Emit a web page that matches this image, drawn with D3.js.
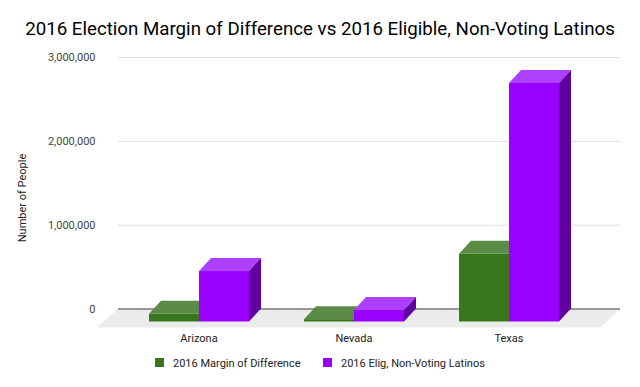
<!DOCTYPE html>
<html><head><meta charset="utf-8">
<script src="https://cdn.jsdelivr.net/npm/d3@7/dist/d3.min.js"></script>
<style>body{margin:0;background:#fff}svg{display:block;font-family:Roboto,sans-serif}</style>
</head><body><svg id="c" width="640" height="387"></svg>
<script>
const categories = ["Arizona", "Nevada", "Texas"];
const seriesNames = ["2016 Margin of Difference", "2016 Elig, Non-Voting Latinos"];
const marginValues = [91234, 27202, 807179];
const nonVotingValues = [602000, 137000, 2845000];
const yTicks = [0, 1000000, 2000000, 3000000];
const title = "2016 Election Margin of Difference vs 2016 Eligible, Non-Voting Latinos";
const yAxisTitle = "Number of People";

const colors = [
  {front:"#38761d", top:"#5b8c47", side:"#2a5915"},
  {front:"#9900ff", top:"#ad40ff", side:"#5f00a0"}
];
const svg = d3.select("#c");
const DX = 12, DY = -13;            // 3D depth offset
const backLeft = 118, backRight = 620;

// back plane y scale
const y = d3.scaleLinear().domain([0, 3000000]).range([308.5, 57]);
// front plane
const yF = v => y(v) - DY;

const x0 = d3.scaleBand().domain(categories).range([121.5, 586.5]).paddingInner(0.3548).paddingOuter(0.1774);
const x1 = d3.scaleBand().domain(seriesNames).range([0, x0.bandwidth()]);

// floor
svg.append("path")
  .attr("d", `M${backLeft},${y(0)}L${backRight},${y(0)}L${backRight-19},${y(0)+19}L${backLeft-21},${y(0)+19}Z`)
  .attr("fill", "#ebebeb");

// gridlines
const grid = svg.append("g").attr("transform", `translate(${backLeft},0)`)
  .call(d3.axisRight(y).tickValues(yTicks).tickSize(backRight - backLeft).tickFormat(""));
grid.select(".domain").remove();
grid.selectAll(".tick line").attr("stroke", d => d === 0 ? "#7a7a7a" : "#e0e0e0").attr("stroke-width", d => d===0?1.3:1);

// y tick labels
const ya = svg.append("g").attr("transform", "translate(95.5,0)")
  .call(d3.axisLeft(y).tickValues(yTicks).tickSize(0).tickPadding(0).tickFormat(d3.format(",")));
ya.select(".domain").remove();
ya.selectAll("text").attr("fill", "#444").style("font-size", "11px").style("font-family", "Roboto");

// bars
const series = [marginValues, nonVotingValues];
const g = svg.append("g");
categories.forEach((c, ci) => {
  series.forEach((vals, si) => {
    const v = vals[ci];
    const xl = x0(c) + x1(seriesNames[si]);
    const xr = xl + x1.bandwidth();
    const yt = yF(v), yb = yF(0);
    const col = colors[si];
    // top
    g.append("path").attr("d", `M${xl},${yt}L${xl+DX},${yt+DY}L${xr+DX},${yt+DY}L${xr},${yt}Z`).attr("fill", col.top);
    // side
    g.append("path").attr("d", `M${xr},${yt}L${xr+DX},${yt+DY}L${xr+DX},${yb+DY}L${xr},${yb}Z`).attr("fill", col.side);
    // front
    g.append("rect").attr("x", xl).attr("y", yt).attr("width", xr - xl).attr("height", yb - yt).attr("fill", col.front);
  });
});

// category labels
svg.append("g").selectAll("text").data(categories).join("text")
  .attr("x", d => x0(d) + x0.bandwidth() / 2).attr("y", 342)
  .attr("text-anchor", "middle").attr("fill", "#222").style("font-size", "11px").text(d => d);

// title
svg.append("text").attr("x", 320).attr("y", 35).attr("text-anchor", "middle")
  .attr("fill", "#000").style("font-size", "18.7px").text(title);

// y axis title
svg.append("text").attr("transform", "translate(26,198) rotate(-90)").attr("text-anchor", "middle")
  .attr("fill", "#222").style("font-size", "11px").text(yAxisTitle);

// legend
const legX = [155, 323];
seriesNames.forEach((n, i) => {
  svg.append("rect").attr("x", legX[i]).attr("y", 358).attr("width", 9).attr("height", 9).attr("fill", colors[i].front);
  svg.append("text").attr("x", legX[i] + 18).attr("y", 367).attr("fill", "#222").style("font-size", "11px").text(n);
});
</script></body></html>
